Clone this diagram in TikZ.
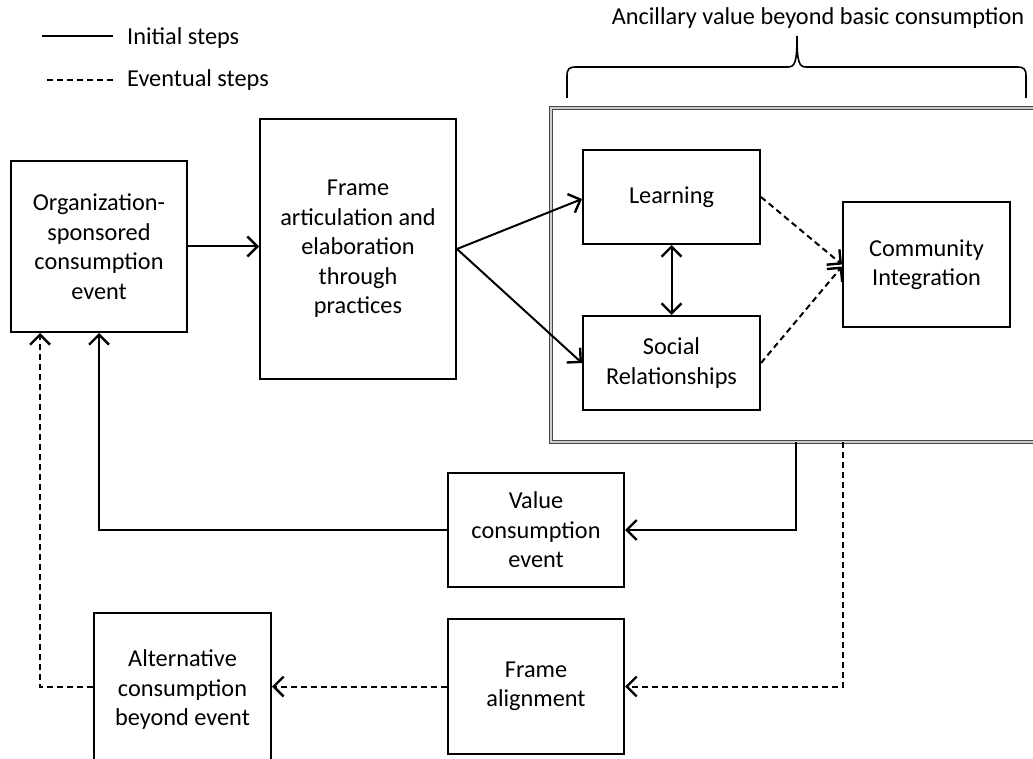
\documentclass[tikz,border=0pt]{standalone}
\usepackage{fontspec}
\setmainfont{Carlito}
\usetikzlibrary{arrows.meta,calc}
\begin{document}
\begin{tikzpicture}[x=1pt,y=-1pt,
  every node/.style={font=\fontsize{24.3}{29.5}\selectfont},
  box/.style={draw,line width=2pt,rectangle,align=center,inner sep=0pt},
  tip/.tip={Straight Barb[length=10pt,width=20pt,line width=2.4pt]},
  conn/.style={line width=2pt,-tip},
  conn2/.style={line width=2pt,tip-tip},
  dsh/.style={dash pattern=on 6pt off 4pt}]
\useasboundingbox (0,0) rectangle (1033,759);
\begin{scope}
\clip (0,0) rectangle (1033,759);
% legend
\coordinate (l1a) at (42,36);
\coordinate (l1b) at (113,36);
\coordinate (l2a) at (47,80);
\coordinate (l2b) at (113,80);
\draw[line width=2pt] (l1a) -- (l1b);
\draw[line width=2pt,dsh] (l2a) -- (l2b);
\node[anchor=west,inner sep=0pt] (lt1) at (127,38) {Initial steps};
\node[anchor=west,inner sep=0pt] (lt2) at (127,80) {Eventual steps};
% title and brace
\node[inner sep=0pt] (title) at (818,18) {Ancillary value beyond basic consumption};
\draw[line width=1.6pt] (567,98) -- (567,76) .. controls (567,69) and (569,67) .. (576,67) -- (788,67) .. controls (795,67) and (797,62) .. (797,36) .. controls (797,62) and (799,67) .. (806,67) -- (1017,67) .. controls (1024,67) and (1026,69) .. (1026,76) -- (1026,98);
% outer container
\node[draw=gray!55!black,double=gray!40,double distance=1.4pt,line width=1.3pt,minimum width=494pt,minimum height=334pt,inner sep=0pt] (outer) at (798,275) {};
% boxes
\node[box,minimum width=176pt,minimum height=171pt] (org) at (99,246.5) {Organization-\\sponsored\\consumption\\event};
\node[box,minimum width=196pt,minimum height=260pt] (fa) at (358,249) {Frame\\articulation and\\elaboration\\through\\practices};
\node[box,minimum width=177pt,minimum height=94pt] (learn) at (671.5,197) {Learning};
\node[box,minimum width=177pt,minimum height=94pt] (soc) at (671.5,363) {Social\\Relationships};
\node[box,minimum width=167pt,minimum height=125pt] (comm) at (926.5,264.5) {Community\\Integration};
\node[box,minimum width=176pt,minimum height=114pt] (value) at (536,530) {Value\\consumption\\event};
\node[box,minimum width=176pt,minimum height=135pt] (align) at (536,686.5) {Frame\\alignment};
\node[box,minimum width=177pt,minimum height=154pt] (alt) at (182.5,690) {Alternative\\consumption\\beyond event};
% connectors
\draw[conn] (org.east) -- (org.east -| fa.west);
\draw[conn] (fa.east) -- ($(learn.west)+(0,2)$);
\draw[conn] (fa.east) -- (soc.west);
\draw[conn2] (learn.south) -- (soc.north);
\draw[conn,dsh] (learn.east) -- (comm.west);
\draw[conn,dsh] (soc.east) -- ($(comm.west)+(0,2)$);
\coordinate (o1) at (796,442);
\coordinate (o2) at (843,442);
\draw[conn] (o1) |- (value.east);
\draw[conn] (value.west) -| (org.south);
\draw[conn,dsh] (o2) |- (align.east);
\draw[conn,dsh] (align.west) -- (align.west -| alt.east);
\coordinate (olf) at ($(org.south west)+(30,0)$);
\draw[conn,dsh] (alt.west |- align.west) -| (olf);
\end{scope}
\end{tikzpicture}
\end{document}
